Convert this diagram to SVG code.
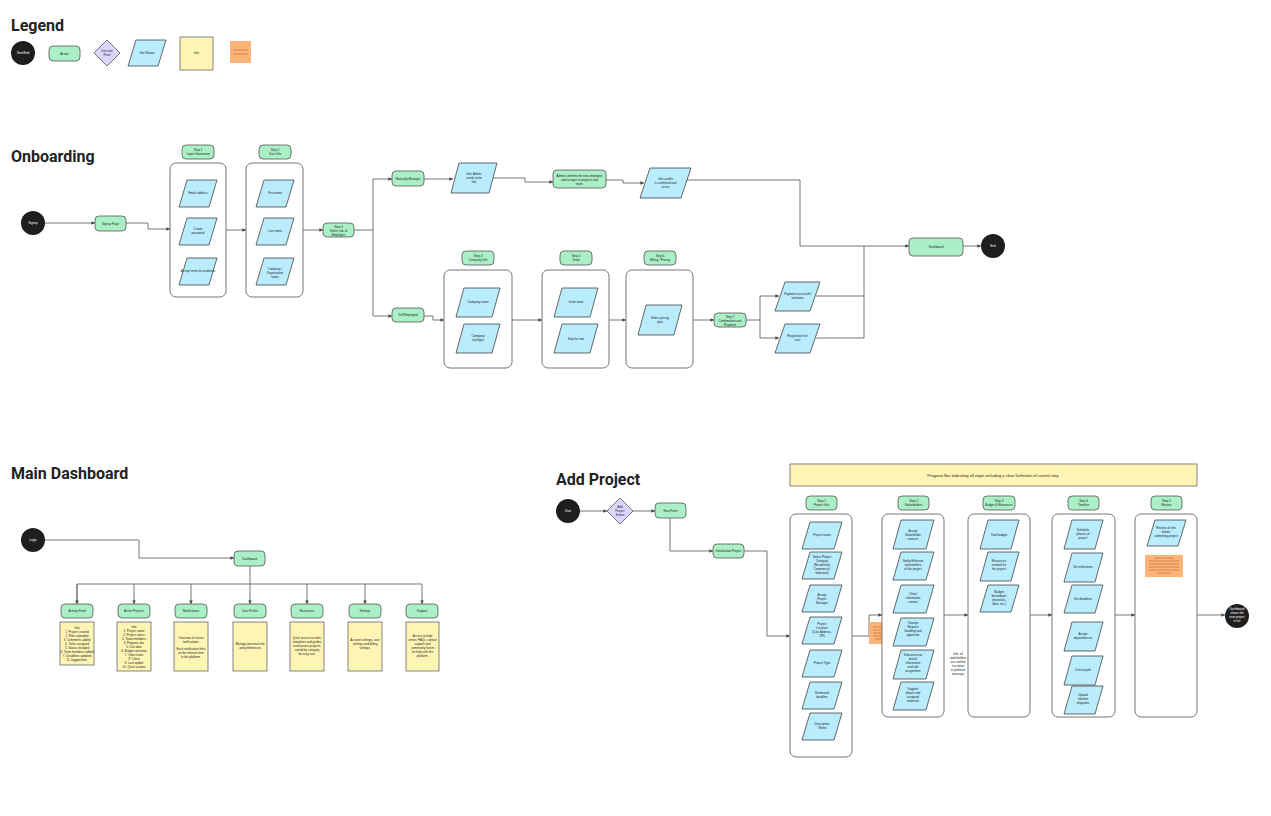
<svg xmlns="http://www.w3.org/2000/svg" width="1271" height="816" viewBox="0 0 1271 816">
<defs>
<marker id="ah" viewBox="0 0 6 6" refX="6" refY="3" markerWidth="4" markerHeight="4" orient="auto"><path d="M0,0 L6,3 L0,6 z" fill="#444"/></marker>
<style>
.t{font-family:"Roboto","Liberation Sans",sans-serif;font-weight:bold;font-size:16px;fill:#222}
.s{font-family:"Liberation Sans",sans-serif;font-size:3px;fill:#222;text-anchor:middle}
.w{fill:#fff}
.se{fill:#1e1e1e}
.ac{fill:#abefc6;stroke:#555;stroke-width:0.8}
.pa{fill:#b9ecfd;stroke:#444;stroke-width:0.8}
.no{fill:#fef5b5;stroke:#666;stroke-width:0.8}
.or{fill:#fdb478}
.dm{fill:#dcd6fe;stroke:#555;stroke-width:0.8}
.bx{fill:#fff;stroke:#666;stroke-width:0.9}
.c{fill:none;stroke:#666;stroke-width:0.9}
.ol{stroke:#c87a3e;stroke-width:0.8}
</style>
</defs>
<rect width="1271" height="816" fill="#fff"/>
<text class="t" x="11" y="31">Legend</text>
<text class="t" x="11" y="162">Onboarding</text>
<text class="t" x="11" y="479">Main Dashboard</text>
<text class="t" x="556" y="485">Add Project</text>

<g id="legend">
<circle class="se" cx="23" cy="53" r="12"/><text class="s w" x="23" y="54">Start/End</text>
<rect class="ac" x="49" y="46" width="31" height="15" rx="4"/><text class="s" x="64.5" y="54.5">Action</text>
<path class="dm" d="M107,40 L120,53 L107,66 L94,53 z"/><text class="s" x="107" y="52">Decision</text><text class="s" x="107" y="56">Point</text>
<path class="pa" d="M136,40 L166,40 L158,66 L128,66 z"/><text class="s" x="147" y="54">Info Shown</text>
<rect class="no" x="180" y="37" width="33" height="33"/><text class="s" x="196.5" y="54">Info</text>
<rect class="or" x="230" y="41" width="21" height="22"/><line class="ol" x1="233" y1="50" x2="248" y2="50"/><line class="ol" x1="233" y1="54" x2="248" y2="54"/>
</g>

<g id="connectors">
<path class="c" d="M45,223 H95" marker-end="url(#ah)"/>
<path class="c" d="M126,223 H148 V229 H170" marker-end="url(#ah)"/>
<path class="c" d="M226,230 H246" marker-end="url(#ah)"/>
<path class="c" d="M303,230 H323" marker-end="url(#ah)"/>
<path class="c" d="M354,230 H373 V179 H392" marker-end="url(#ah)"/>
<path class="c" d="M373,230 V316 H392" marker-end="url(#ah)"/>
<path class="c" d="M424,179 H453" marker-end="url(#ah)"/>
<path class="c" d="M493,178 H525 V182 H553" marker-end="url(#ah)"/>
<path class="c" d="M606,180 H623 V183 H644" marker-end="url(#ah)"/>
<path class="c" d="M687,180 H800 V246 H909" marker-end="url(#ah)"/>
<path class="c" d="M963,246 H981" marker-end="url(#ah)"/>
<path class="c" d="M424,316 H433 V320 H444" marker-end="url(#ah)"/>
<path class="c" d="M512,320 H542" marker-end="url(#ah)"/>
<path class="c" d="M609,320 H626" marker-end="url(#ah)"/>
<path class="c" d="M693,320 H714" marker-end="url(#ah)"/>
<path class="c" d="M746,320 H760 V296 H779" marker-end="url(#ah)"/>
<path class="c" d="M760,320 V338 H779" marker-end="url(#ah)"/>
<path class="c" d="M816,296 H864 V246"/>
<path class="c" d="M816,338 H864 V296"/>

<path class="c" d="M45,540 H139 V558 H234" marker-end="url(#ah)"/>
<path class="c" d="M250,566 V604" marker-end="url(#ah)"/>
<path class="c" d="M77,604 V584 H422 V604" marker-end="url(#ah)"/>
<path class="c" d="M77,584 V604" marker-end="url(#ah)"/>
<path class="c" d="M134,584 V604" marker-end="url(#ah)"/>
<path class="c" d="M191,584 V604" marker-end="url(#ah)"/>
<path class="c" d="M307,584 V604" marker-end="url(#ah)"/>
<path class="c" d="M365,584 V604" marker-end="url(#ah)"/>

<path class="c" d="M580,511 H607" marker-end="url(#ah)"/>
<path class="c" d="M633,511 H655" marker-end="url(#ah)"/>
<path class="c" d="M670,518 V551 H713" marker-end="url(#ah)"/>
<path class="c" d="M744,551 H767 V636 H790" marker-end="url(#ah)"/>
<path class="c" d="M852,636 H869 V615 H882" marker-end="url(#ah)"/>
<path class="c" d="M944,615 H968" marker-end="url(#ah)"/>
<path class="c" d="M1030,615 H1052" marker-end="url(#ah)"/>
<path class="c" d="M1115,615 H1135" marker-end="url(#ah)"/>
<path class="c" d="M1197,615 H1225" marker-end="url(#ah)"/>
</g>

<g id="ob-start"><circle class="se" cx="33" cy="223" r="12"/><text class="s w" x="33" y="224">Signup</text></g>
<g id="ob-signup"><rect class="ac" x="95" y="216" width="31" height="15" rx="4"/><text class="s" x="110.5" y="224.5">Signup Page</text></g>
<g id="ob-step1">
<rect class="ac" x="182" y="145" width="32" height="14" rx="4"/><text class="s" x="198" y="151">Step 1</text><text class="s" x="198" y="155">Login Information</text>
<rect class="bx" x="170" y="163" width="56" height="134" rx="6"/>
<path class="pa" d="M187,180 L217,180 L209,207 L179,207 z"/><text class="s" x="198" y="194">Email address</text>
<path class="pa" d="M187,218 L217,218 L209,245 L179,245 z"/><text class="s" x="198" y="230">Create</text><text class="s" x="198" y="234">password</text>
<path class="pa" d="M187,258 L217,258 L209,285 L179,285 z"/><text class="s" x="198" y="272">Accept terms &amp; conditions</text>
</g>
<g id="ob-step2">
<rect class="ac" x="259" y="145" width="32" height="14" rx="4"/><text class="s" x="275" y="151">Step 2</text><text class="s" x="275" y="155">User Info</text>
<rect class="bx" x="246" y="163" width="57" height="134" rx="6"/>
<path class="pa" d="M264,180 L294,180 L286,207 L256,207 z"/><text class="s" x="275" y="194">First name</text>
<path class="pa" d="M264,218 L294,218 L286,245 L256,245 z"/><text class="s" x="275" y="232">Last name</text>
<path class="pa" d="M264,258 L294,258 L286,285 L256,285 z"/><text class="s" x="275" y="270">Company /</text><text class="s" x="275" y="274">Organization</text><text class="s" x="275" y="278">name</text>
</g>
<g id="ob-step3"><rect class="ac" x="323" y="223" width="31" height="14" rx="4"/><text class="s" x="338.5" y="228">Step 3</text><text class="s" x="338.5" y="232">Select role of</text><text class="s" x="338.5" y="236">Employee</text></g>
<g id="ob-manual"><rect class="ac" x="392" y="171" width="32" height="15" rx="4"/><text class="s" x="408" y="179.5">Manually Manager</text></g>
<g id="ob-mp1"><path class="pa" d="M459,163 L497,163 L489,193 L451,193 z"/><text class="s" x="474" y="175">Info: Admin</text><text class="s" x="474" y="179">sends invite</text><text class="s" x="474" y="183">link</text></g>
<g id="ob-mp2"><rect class="ac" x="553" y="170" width="53" height="18" rx="4"/><text class="s" x="579.5" y="177">Admin confirms the new employee</text><text class="s" x="579.5" y="181">and assigns to projects and</text><text class="s" x="579.5" y="185">team.</text></g>
<g id="ob-mp3"><path class="pa" d="M650,168 L691,168 L681,198 L640,198 z"/><text class="s" x="665.5" y="180">Info: profile</text><text class="s" x="665.5" y="184">is confirmed and</text><text class="s" x="665.5" y="188">active</text></g>
<g id="ob-self"><rect class="ac" x="392" y="308" width="32" height="14" rx="4"/><text class="s" x="408" y="316">Self Employed</text></g>
<g id="ob-b1">
<rect class="ac" x="462" y="251" width="32" height="14" rx="4"/><text class="s" x="478" y="257">Step 4</text><text class="s" x="478" y="261">Company Info</text>
<rect class="bx" x="444" y="270" width="68" height="98" rx="6"/>
<path class="pa" d="M464,288 L500,288 L492,317 L456,317 z"/><text class="s" x="478" y="303">Company name</text>
<path class="pa" d="M464,324 L500,324 L492,353 L456,353 z"/><text class="s" x="478" y="337">Company</text><text class="s" x="478" y="341">size/type</text>
</g>
<g id="ob-b2">
<rect class="ac" x="560" y="251" width="32" height="14" rx="4"/><text class="s" x="576" y="257">Step 5</text><text class="s" x="576" y="261">Team</text>
<rect class="bx" x="542" y="270" width="67" height="98" rx="6"/>
<path class="pa" d="M562,288 L598,288 L590,317 L554,317 z"/><text class="s" x="576" y="303">Invite team</text>
<path class="pa" d="M562,324 L598,324 L590,353 L554,353 z"/><text class="s" x="576" y="340">Skip for now</text>
</g>
<g id="ob-b3">
<rect class="ac" x="644" y="251" width="32" height="14" rx="4"/><text class="s" x="660" y="257">Step 6</text><text class="s" x="660" y="261">Billing / Pricing</text>
<rect class="bx" x="626" y="270" width="67" height="98" rx="6"/>
<path class="pa" d="M646,305 L682,305 L674,335 L638,335 z"/><text class="s" x="660" y="319">Select pricing</text><text class="s" x="660" y="323">plan</text>
</g>
<g id="ob-step7"><rect class="ac" x="714" y="313" width="32" height="14" rx="4"/><text class="s" x="730" y="318">Step 7</text><text class="s" x="730" y="322">Confirmation and</text><text class="s" x="730" y="326">Payment</text></g>
<g id="ob-ok"><path class="pa" d="M785,282 L820,282 L810,311 L775,311 z"/><text class="s" x="797.5" y="295">Payment successful</text><text class="s" x="797.5" y="299">welcome</text></g>
<g id="ob-fail"><path class="pa" d="M785,324 L820,324 L810,353 L775,353 z"/><text class="s" x="797.5" y="337">Registration for</text><text class="s" x="797.5" y="341">user</text></g>
<g id="ob-dash"><rect class="ac" x="909" y="238" width="54" height="18" rx="4"/><text class="s" x="936" y="248">Dashboard</text></g>
<g id="ob-end"><circle class="se" cx="993" cy="246" r="12"/><text class="s w" x="993" y="247">End</text></g>

<g id="md-login"><circle class="se" cx="33" cy="540" r="12"/><text class="s w" x="33" y="541">Login</text></g>
<g id="md-dash"><rect class="ac" x="234" y="551" width="31" height="15" rx="4"/><text class="s" x="249.5" y="559.5">Dashboard</text></g>
<g id="md-1"><rect class="ac" x="61" y="604" width="32" height="14" rx="4"/><text class="s" x="77" y="612">Activity Feed</text>
<rect class="no" x="60" y="622" width="34" height="43"/><text class="s" x="77" y="629">Info</text><text class="s" x="77" y="633">1. Project created</text><text class="s" x="77" y="637">2. Files uploaded</text><text class="s" x="77" y="641">3. Comments added</text><text class="s" x="77" y="645">4. Tasks assigned</text><text class="s" x="77" y="649">5. Status changed</text><text class="s" x="77" y="653">6. Team members added</text><text class="s" x="77" y="657">7. Deadlines updated</text><text class="s" x="77" y="661">8. Logged time</text></g>
<g id="md-2"><rect class="ac" x="118" y="604" width="32" height="14" rx="4"/><text class="s" x="134" y="612">Active Projects</text>
<rect class="no" x="117" y="622" width="34" height="49"/><text class="s" x="134" y="628">Info</text><text class="s" x="134" y="632">1. Project name</text><text class="s" x="134" y="636">2. Project status</text><text class="s" x="134" y="640">3. Team members</text><text class="s" x="134" y="644">4. Progress bar</text><text class="s" x="134" y="648">5. Due date</text><text class="s" x="134" y="652">6. Budget overview</text><text class="s" x="134" y="656">7. Open tasks</text><text class="s" x="134" y="660">8. Client</text><text class="s" x="134" y="664">9. Last update</text><text class="s" x="134" y="668">10. Quick actions</text></g>
<g id="md-3"><rect class="ac" x="175" y="604" width="32" height="14" rx="4"/><text class="s" x="191" y="612">Notifications</text>
<rect class="no" x="174" y="622" width="34" height="49"/><text class="s" x="191" y="639">Overview of recent</text><text class="s" x="191" y="643">notifications.</text><text class="s" x="191" y="650">Each notification links</text><text class="s" x="191" y="654">to the relevant item</text><text class="s" x="191" y="658">in the platform.</text></g>
<g id="md-4"><rect class="ac" x="234" y="604" width="32" height="14" rx="4"/><text class="s" x="250" y="612">User Profile</text>
<rect class="no" x="233" y="622" width="34" height="49"/><text class="s" x="250" y="645">Manage personal info</text><text class="s" x="250" y="649">and preferences</text></g>
<g id="md-5"><rect class="ac" x="291" y="604" width="32" height="14" rx="4"/><text class="s" x="307" y="612">Resources</text>
<rect class="no" x="290" y="622" width="34" height="49"/><text class="s" x="307" y="639">Quick access to tools,</text><text class="s" x="307" y="643">templates and guides</text><text class="s" x="307" y="647">used across projects,</text><text class="s" x="307" y="651">sorted by category</text><text class="s" x="307" y="655">for easy use.</text></g>
<g id="md-6"><rect class="ac" x="349" y="604" width="32" height="14" rx="4"/><text class="s" x="365" y="612">Settings</text>
<rect class="no" x="348" y="622" width="34" height="49"/><text class="s" x="365" y="641">Account settings, user</text><text class="s" x="365" y="645">settings and billing</text><text class="s" x="365" y="649">settings.</text></g>
<g id="md-7"><rect class="ac" x="406" y="604" width="32" height="14" rx="4"/><text class="s" x="422" y="612">Support</text>
<rect class="no" x="406" y="622" width="33" height="49"/><text class="s" x="422.5" y="637">Access to help</text><text class="s" x="422.5" y="641">center, FAQs, contact</text><text class="s" x="422.5" y="645">support and</text><text class="s" x="422.5" y="649">community forum</text><text class="s" x="422.5" y="653">for help with the</text><text class="s" x="422.5" y="657">platform.</text></g>

<g id="ap-banner"><rect class="no" x="790" y="464" width="407" height="22"/><text class="s" x="993" y="476.5" style="font-size:4px">Progress Bar indicating all steps including a clear Definition of current step</text></g>
<g id="ap-start"><circle class="se" cx="568" cy="511" r="12"/><text class="s w" x="568" y="512">Start</text></g>
<g id="ap-dec"><path class="dm" d="M620,498 L633,511 L620,524 L607,511 z"/><text class="s" x="620" y="508">Add</text><text class="s" x="620" y="512">Project</text><text class="s" x="620" y="516">Button</text></g>
<g id="ap-form"><rect class="ac" x="655" y="503" width="31" height="15" rx="4"/><text class="s" x="670.5" y="511.5">New Form</text></g>
<g id="ap-wiz"><rect class="ac" x="713" y="544" width="31" height="14" rx="4"/><text class="s" x="728.5" y="552">Initialization Project</text></g>
<g id="ap-s1">
<rect class="ac" x="806" y="496" width="31" height="14" rx="4"/><text class="s" x="821.5" y="502">Step 1</text><text class="s" x="821.5" y="506">Project Info</text>
<rect class="bx" x="790" y="514" width="62" height="243" rx="6"/>
<path class="pa" d="M810,522 L842,522 L834,549 L802,549 z"/><text class="s" x="822" y="536">Project name</text>
<path class="pa" d="M810,552 L842,552 L834,579 L802,579 z"/><text class="s" x="822" y="558">Select Project</text><text class="s" x="822" y="562">Category</text><text class="s" x="822" y="566">(Residential,</text><text class="s" x="822" y="570">Commercial,</text><text class="s" x="822" y="574">Industrial)</text>
<path class="pa" d="M810,585 L842,585 L834,612 L802,612 z"/><text class="s" x="822" y="596">Assign</text><text class="s" x="822" y="600">Project</text><text class="s" x="822" y="604">Manager</text>
<path class="pa" d="M810,617 L842,617 L834,644 L802,644 z"/><text class="s" x="822" y="625">Project</text><text class="s" x="822" y="629">Location</text><text class="s" x="822" y="633">(City, Address,</text><text class="s" x="822" y="637">ZIP)</text>
<path class="pa" d="M810,650 L842,650 L834,677 L802,677 z"/><text class="s" x="822" y="664">Project Type</text>
<path class="pa" d="M810,682 L842,682 L834,709 L802,709 z"/><text class="s" x="822" y="694">Estimated</text><text class="s" x="822" y="698">deadline</text>
<path class="pa" d="M810,713 L842,713 L834,740 L802,740 z"/><text class="s" x="822" y="725">Description</text><text class="s" x="822" y="729">/ Notes</text>
</g>
<g id="ap-note1"><rect class="or" x="869" y="622" width="22" height="22"/><line class="ol" x1="873" y1="627" x2="887" y2="627"/><line class="ol" x1="873" y1="630" x2="887" y2="630"/><line class="ol" x1="873" y1="633" x2="887" y2="633"/><line class="ol" x1="873" y1="636" x2="887" y2="636"/><line class="ol" x1="875" y1="639" x2="885" y2="639"/></g>
<g id="ap-s2">
<rect class="ac" x="898" y="496" width="31" height="14" rx="4"/><text class="s" x="913.5" y="502">Step 2</text><text class="s" x="913.5" y="506">Stakeholders</text>
<rect class="bx" x="882" y="514" width="62" height="203" rx="6"/>
<path class="pa" d="M901,520 L934,520 L926,549 L893,549 z"/><text class="s" x="913" y="532">Assign</text><text class="s" x="913" y="536">Stakeholder</text><text class="s" x="913" y="540">contacts</text>
<path class="pa" d="M901,552 L934,552 L926,580 L893,580 z"/><text class="s" x="913" y="562">Notify Relevant</text><text class="s" x="913" y="566">stakeholders</text><text class="s" x="913" y="570">of the project</text>
<path class="pa" d="M901,585 L934,585 L926,613 L893,613 z"/><text class="s" x="913" y="595">Client</text><text class="s" x="913" y="599">information</text><text class="s" x="913" y="603">contact</text>
<path class="pa" d="M901,618 L934,618 L926,646 L893,646 z"/><text class="s" x="913" y="624">Change</text><text class="s" x="913" y="628">Request</text><text class="s" x="913" y="632">handling and</text><text class="s" x="913" y="636">approvals</text>
<path class="pa" d="M901,650 L934,650 L926,679 L893,679 z"/><text class="s" x="913" y="656">Subcontractor</text><text class="s" x="913" y="660">details</text><text class="s" x="913" y="664">Information</text><text class="s" x="913" y="668">and role</text><text class="s" x="913" y="672">assignment</text>
<path class="pa" d="M901,682 L934,682 L926,710 L893,710 z"/><text class="s" x="913" y="690">Supplier</text><text class="s" x="913" y="694">details and</text><text class="s" x="913" y="698">assigned</text><text class="s" x="913" y="702">materials</text>
</g>
<g id="ap-side"><text class="s" x="958" y="655">Info: all</text><text class="s" x="958" y="659">stakeholders</text><text class="s" x="958" y="663">are notified</text><text class="s" x="958" y="667">via email</text><text class="s" x="958" y="671">or platform</text><text class="s" x="958" y="675">message</text></g>
<g id="ap-s3">
<rect class="ac" x="983" y="496" width="32" height="14" rx="4"/><text class="s" x="999" y="502">Step 3</text><text class="s" x="999" y="506">Budget &amp; Resources</text>
<rect class="bx" x="968" y="514" width="62" height="203" rx="6"/>
<path class="pa" d="M988,520 L1019,520 L1011,549 L980,549 z"/><text class="s" x="999" y="536">Total budget</text>
<path class="pa" d="M988,552 L1019,552 L1011,581 L980,581 z"/><text class="s" x="999" y="562">Resources</text><text class="s" x="999" y="566">needed for</text><text class="s" x="999" y="570">the project</text>
<path class="pa" d="M988,585 L1019,585 L1011,612 L980,612 z"/><text class="s" x="999" y="593">Budget</text><text class="s" x="999" y="597">breakdown</text><text class="s" x="999" y="601">(materials,</text><text class="s" x="999" y="605">labor, etc.)</text>
</g>
<g id="ap-s4">
<rect class="ac" x="1068" y="496" width="31" height="14" rx="4"/><text class="s" x="1083.5" y="502">Step 4</text><text class="s" x="1083.5" y="506">Timeline</text>
<rect class="bx" x="1052" y="514" width="63" height="203" rx="6"/>
<path class="pa" d="M1072,520 L1103,520 L1095,549 L1064,549 z"/><text class="s" x="1083" y="531">Schedule</text><text class="s" x="1083" y="535">phases of</text><text class="s" x="1083" y="539">project</text>
<path class="pa" d="M1072,553 L1103,553 L1095,582 L1064,582 z"/><text class="s" x="1083" y="568">Set milestones</text>
<path class="pa" d="M1072,585 L1103,585 L1095,613 L1064,613 z"/><text class="s" x="1083" y="600">Set deadlines</text>
<path class="pa" d="M1072,622 L1103,622 L1095,651 L1064,651 z"/><text class="s" x="1083" y="635">Assign</text><text class="s" x="1083" y="639">dependencies</text>
<path class="pa" d="M1072,656 L1103,656 L1095,685 L1064,685 z"/><text class="s" x="1083" y="671">Critical path</text>
<path class="pa" d="M1072,686 L1103,686 L1095,714 L1064,714 z"/><text class="s" x="1083" y="696">Upload</text><text class="s" x="1083" y="700">timeline</text><text class="s" x="1083" y="704">diagrams</text>
</g>
<g id="ap-s5">
<rect class="ac" x="1151" y="496" width="31" height="14" rx="4"/><text class="s" x="1166.5" y="502">Step 5</text><text class="s" x="1166.5" y="506">Review</text>
<rect class="bx" x="1135" y="514" width="62" height="203" rx="6"/>
<path class="pa" d="M1155,520 L1186,520 L1178,546 L1147,546 z"/><text class="s" x="1166" y="529">Review all info</text><text class="s" x="1166" y="533">before</text><text class="s" x="1166" y="537">submitting project</text>
<rect class="or" x="1145" y="555" width="38" height="22"/><line class="ol" x1="1154" y1="558" x2="1174" y2="558"/><line class="ol" x1="1149" y1="561" x2="1179" y2="561"/><line class="ol" x1="1149" y1="564" x2="1179" y2="564"/><line class="ol" x1="1149" y1="567" x2="1179" y2="567"/><line class="ol" x1="1149" y1="570" x2="1179" y2="570"/><line class="ol" x1="1157" y1="573" x2="1171" y2="573"/>
</g>
<g id="ap-end"><circle class="se" cx="1237" cy="616" r="12"/><text class="s w" x="1237" y="610">Dashboard</text><text class="s w" x="1237" y="614">shows the</text><text class="s w" x="1237" y="618">new project</text><text class="s w" x="1237" y="622">in list</text></g>
</svg>
